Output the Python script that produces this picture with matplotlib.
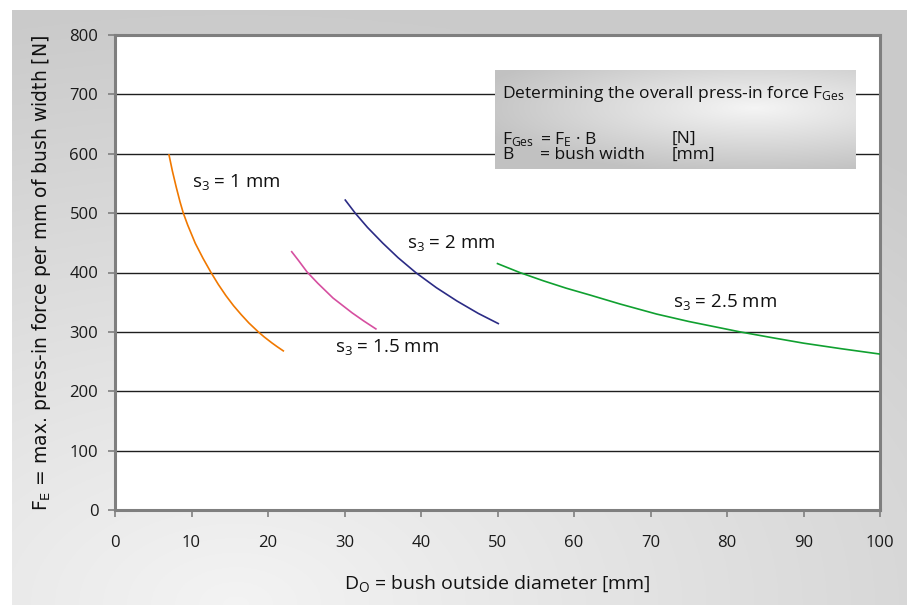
import numpy as np
import matplotlib
matplotlib.use("Agg")
import matplotlib.pyplot as plt

# ---- data ----
d_s1 = [7.06, 7.5, 8.0, 8.5, 8.93, 9.5, 10.5, 11.5, 12.55, 13.5, 14.5, 15.5, 16.5, 17.5, 18.73, 19.5, 20.5, 21.2, 22.0]
f_s1 = [598, 571, 544, 519, 500, 480, 449, 424, 400, 380, 361, 344, 329, 315, 300, 291.5, 281.5, 275, 268]

d_s15 = [23.1, 24.0, 25.1, 26.5, 28.5, 30.0, 31.0, 32.5, 34.1]
f_s15 = [435, 420, 401, 382, 357, 342, 332, 318.5, 305]

d_s2 = [30.1, 31.4, 33.0, 35.0, 37.0, 39.3, 42.0, 44.7, 47.5, 50.1]
f_s2 = [522, 500, 476, 449.5, 425, 400, 374.5, 352, 331, 314]

d_s25 = [50.0, 52.9, 56.0, 59.0, 62.1, 66.0, 70.8, 75.0, 81.7, 86.0, 90.0, 95.0, 100.0]
f_s25 = [415, 400, 386, 373.5, 362, 347, 330, 317.5, 300, 290, 281, 271.5, 262.6]

x_ticks = [0, 10, 20, 30, 40, 50, 60, 70, 80, 90, 100]
y_ticks = [0, 100, 200, 300, 400, 500, 600, 700, 800]

plt.rcParams['font.family'] = ['Open Sans', 'DejaVu Sans']
plt.rcParams['mathtext.default'] = 'regular'

W, H = 913, 605
fig = plt.figure(figsize=(W / 100, H / 100), dpi=100)
fig.patch.set_facecolor('white')

# background gradient panel
bg = fig.add_axes([12 / W, 0, (907 - 12) / W, 1 - 10 / H], zorder=0)
yy, xx = np.mgrid[0:1:300j, 0:1:450j]
dist = np.sqrt(((xx - 0.25) * 1.0) ** 2 + ((yy - 0.0) * 1.1) ** 2)
val = 0.955 - 0.16 * np.clip(dist, 0, 1.1) / 1.1
bg.imshow(np.dstack([val, val, val]), origin='lower', aspect='auto',
          extent=[0, 1, 0, 1])
bg.set_axis_off()

# main axes
ax = fig.add_axes([115 / W, 1 - 510 / H, (880 - 115) / W, (510 - 35) / H], zorder=1)
ax.set_facecolor('white')
ax.set_xlim(0, 100)
ax.set_ylim(0, 800)
ax.set_xticks(x_ticks)
ax.set_yticks(y_ticks)
ax.set_xticklabels([str(v) for v in x_ticks], fontsize=12, color='#1a1a1a')
ax.set_yticklabels([str(v) for v in y_ticks], fontsize=12, color='#1a1a1a')
ax.tick_params(axis='x', direction='out', length=5, width=1.2, color='#7f7f7f', pad=13)
ax.tick_params(axis='y', direction='out', length=5, width=1.2, color='#7f7f7f', pad=7)
for sp in ax.spines.values():
    sp.set_color('#7f7f7f')
    sp.set_linewidth(2.2)
for v in y_ticks[1:-1]:
    ax.axhline(v, color='#1e1e1e', lw=1.0, zorder=1)

ax.plot(d_s1, f_s1, color='#f07800', lw=1.2, zorder=3)
ax.plot(d_s15, f_s15, color='#d64fa0', lw=1.2, zorder=3)
ax.plot(d_s2, f_s2, color='#2b2b85', lw=1.2, zorder=3)
ax.plot(d_s25, f_s25, color='#10a030', lw=1.2, zorder=3)

lab_kw = dict(fontsize=13.5, color='#111111', va='center', ha='left', zorder=4)
ax.text(10.1, 552, r'$s_3$ = 1 mm', **lab_kw)
ax.text(28.8, 274, r'$s_3$ = 1.5 mm', **lab_kw)
ax.text(38.2, 449, r'$s_3$ = 2 mm', **lab_kw)
ax.text(72.9, 350, r'$s_3$ = 2.5 mm', **lab_kw)

ax.set_xlabel(r'$D_O$ = bush outside diameter [mm]', fontsize=14, labelpad=16, color='#111111')
ax.set_ylabel(r'$F_E$ = max. press-in force per mm of bush width [N]', fontsize=13.5,
              labelpad=12, color='#111111', family=['DejaVu Sans'])

# text box with gradient
bx = fig.add_axes([495 / W, 1 - 169 / H, (855 - 495) / W, (169 - 70) / H], zorder=2)
by, bxx = np.mgrid[0:1:100j, 0:1:360j]
bd = np.sqrt(((bxx - 0.72) * 1.0) ** 2 + ((by - 0.62) * 1.2) ** 2)
bval = 0.96 - 0.2 * np.clip(bd / 0.8, 0, 1)
bx.imshow(np.dstack([bval, bval, bval]), origin='lower', aspect='auto', extent=[0, 1, 0, 1])
bx.set_xlim(0, 1)
bx.set_ylim(0, 1)
bx.set_axis_off()

tkw = dict(fontsize=12.5, color='#111111', va='center', ha='left', transform=bx.transAxes)
bx.text(0.02, 0.76, r'Determining the overall press-in force $F_{Ges}$', **tkw)
bx.text(0.02, 0.30, r'$F_{Ges}$', **tkw)
bx.text(0.125, 0.30, r'= $F_E$ · B', **tkw)
bx.text(0.49, 0.30, '[N]', **tkw)
bx.text(0.02, 0.14, 'B', **tkw)
bx.text(0.125, 0.14, '= bush width', **tkw)
bx.text(0.49, 0.14, '[mm]', **tkw)

fig.savefig('out.png', dpi=100)
